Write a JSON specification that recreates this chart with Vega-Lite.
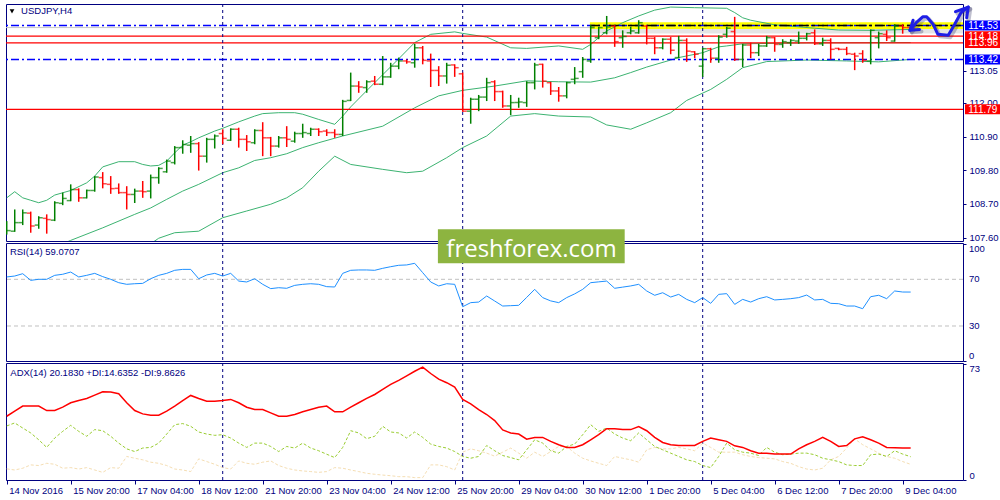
{
  "$schema": "https://vega.github.io/schema/vega-lite/v6.json",
  "background": "white",
  "padding": {"left": 3, "top": 3, "right": 0, "bottom": 0},
  "bounds": "flush",
  "spacing": 2,
  "config": {
    "font": "Liberation Sans",
    "view": {"stroke": "#000080", "strokeWidth": 1},
    "scale": {"continuousPadding": 0},
    "axis": {"labelColor": "#000080", "tickColor": "#000080", "domain": false, "grid": false, "labelFontSize": 9.5, "labelFont": "Liberation Sans", "tickSize": 3, "labelOverlap": false}
  },
  "resolve": {"scale": {"x": "independent", "y": "independent"}},
  "datasets": {
    "sep": [{"i": 27}, {"i": 57}, {"i": 87}],
    "bars": [
      {"i":0,"o":107.81,"h":108.14,"l":107.70,"c":107.83},{"i":1,"o":107.81,"h":108.52,"l":107.79,"c":108.09},
      {"i":2,"o":108.09,"h":108.52,"l":108.01,"c":108.41},{"i":3,"o":108.40,"h":108.45,"l":107.76,"c":107.98},
      {"i":4,"o":108.01,"h":108.30,"l":107.89,"c":108.25},{"i":5,"o":108.23,"h":108.36,"l":107.73,"c":108.19},
      {"i":6,"o":108.17,"h":108.79,"l":108.14,"c":108.74},{"i":7,"o":108.72,"h":109.07,"l":108.66,"c":108.88},
      {"i":8,"o":108.81,"h":109.34,"l":108.79,"c":109.17},{"i":9,"o":109.17,"h":109.21,"l":108.77,"c":108.90},
      {"i":10,"o":108.90,"h":109.17,"l":108.88,"c":109.14},{"i":11,"o":109.14,"h":109.61,"l":109.10,"c":109.58},
      {"i":12,"o":109.56,"h":109.74,"l":109.21,"c":109.36},{"i":13,"o":109.34,"h":109.61,"l":109.03,"c":109.20},
      {"i":14,"o":109.21,"h":109.37,"l":109.03,"c":109.07},{"i":15,"o":109.07,"h":109.28,"l":108.52,"c":109.01},
      {"i":16,"o":109.01,"h":109.20,"l":108.73,"c":109.12},{"i":17,"o":109.12,"h":109.45,"l":108.90,"c":109.10},
      {"i":18,"o":109.12,"h":109.66,"l":108.88,"c":109.56},{"i":19,"o":109.56,"h":109.90,"l":109.36,"c":109.86},
      {"i":20,"o":109.75,"h":110.15,"l":109.72,"c":110.10},{"i":21,"o":110.05,"h":110.59,"l":109.99,"c":110.54},
      {"i":22,"o":110.54,"h":110.78,"l":110.34,"c":110.64},{"i":23,"o":110.62,"h":110.92,"l":110.37,"c":110.67},
      {"i":24,"o":110.67,"h":110.72,"l":109.79,"c":110.26},{"i":25,"o":110.26,"h":110.86,"l":110.05,"c":110.81},
      {"i":26,"o":110.81,"h":110.97,"l":110.51,"c":110.92},{"i":27,"o":111.00,"h":111.14,"l":110.65,"c":110.84},
      {"i":28,"o":110.78,"h":111.17,"l":110.76,"c":111.14},{"i":29,"o":111.14,"h":111.19,"l":110.54,"c":110.81},
      {"i":30,"o":110.81,"h":110.95,"l":110.43,"c":110.73},{"i":31,"o":110.70,"h":111.14,"l":110.65,"c":111.10},
      {"i":32,"o":111.10,"h":111.37,"l":110.26,"c":110.86},{"i":33,"o":110.86,"h":110.89,"l":110.26,"c":110.59},
      {"i":34,"o":110.59,"h":110.92,"l":110.54,"c":110.86},{"i":35,"o":110.86,"h":111.24,"l":110.56,"c":110.81},
      {"i":36,"o":110.75,"h":111.06,"l":110.70,"c":111.00},{"i":37,"o":111.00,"h":111.32,"l":110.86,"c":111.03},
      {"i":38,"o":111.00,"h":111.19,"l":110.92,"c":111.14},{"i":39,"o":111.14,"h":111.17,"l":110.92,"c":111.06},
      {"i":40,"o":111.08,"h":111.14,"l":110.92,"c":111.03},{"i":41,"o":111.03,"h":111.14,"l":110.86,"c":110.97},
      {"i":42,"o":110.97,"h":112.10,"l":110.92,"c":112.05},{"i":43,"o":112.08,"h":112.99,"l":112.06,"c":112.55},
      {"i":44,"o":112.55,"h":112.71,"l":112.33,"c":112.52},{"i":45,"o":112.50,"h":112.74,"l":112.33,"c":112.69},
      {"i":46,"o":112.71,"h":112.88,"l":112.58,"c":112.61},{"i":47,"o":112.61,"h":113.53,"l":112.58,"c":112.85},
      {"i":48,"o":112.85,"h":113.31,"l":112.82,"c":113.20},{"i":49,"o":113.20,"h":113.48,"l":113.10,"c":113.37},
      {"i":50,"o":113.37,"h":113.42,"l":113.28,"c":113.34},{"i":51,"o":113.31,"h":113.93,"l":113.15,"c":113.80},
      {"i":52,"o":113.80,"h":113.86,"l":113.26,"c":113.39},{"i":53,"o":113.37,"h":113.61,"l":112.52,"c":113.06},
      {"i":54,"o":113.06,"h":113.20,"l":112.55,"c":112.88},{"i":55,"o":112.88,"h":113.31,"l":112.63,"c":113.23},
      {"i":56,"o":113.24,"h":113.26,"l":112.85,"c":113.15},{"i":57,"o":112.95,"h":112.99,"l":111.71,"c":111.73},
      {"i":58,"o":111.73,"h":112.17,"l":111.32,"c":112.12},{"i":59,"o":112.12,"h":112.26,"l":111.73,"c":112.19},
      {"i":60,"o":112.19,"h":112.82,"l":112.06,"c":112.66},{"i":61,"o":112.69,"h":112.74,"l":112.06,"c":112.37},
      {"i":62,"o":112.37,"h":112.40,"l":111.84,"c":111.90},{"i":63,"o":111.90,"h":112.26,"l":111.60,"c":112.01},
      {"i":64,"o":112.01,"h":112.17,"l":111.84,"c":112.03},{"i":65,"o":112.01,"h":112.71,"l":111.87,"c":112.66},
      {"i":66,"o":112.66,"h":113.31,"l":112.44,"c":113.24},{"i":67,"o":113.26,"h":113.28,"l":112.50,"c":112.71},
      {"i":68,"o":112.66,"h":112.69,"l":112.26,"c":112.39},{"i":69,"o":112.39,"h":112.52,"l":112.04,"c":112.23},
      {"i":70,"o":112.23,"h":112.69,"l":112.15,"c":112.66},{"i":71,"o":112.77,"h":113.17,"l":112.61,"c":112.80},
      {"i":72,"o":113.02,"h":113.50,"l":112.82,"c":113.42},{"i":73,"o":113.37,"h":114.54,"l":113.31,"c":114.46},
      {"i":74,"o":114.13,"h":114.48,"l":114.08,"c":114.46},{"i":75,"o":114.29,"h":114.84,"l":114.24,"c":114.48},
      {"i":76,"o":114.51,"h":114.54,"l":113.83,"c":114.00},{"i":77,"o":114.13,"h":114.37,"l":113.80,"c":114.17},
      {"i":78,"o":114.29,"h":114.48,"l":114.24,"c":114.35},{"i":79,"o":114.29,"h":114.70,"l":114.26,"c":114.62},
      {"i":80,"o":114.51,"h":114.54,"l":113.91,"c":114.11},{"i":81,"o":114.11,"h":114.15,"l":113.59,"c":113.80},
      {"i":82,"o":113.80,"h":114.11,"l":113.75,"c":114.08},{"i":83,"o":114.08,"h":114.15,"l":113.59,"c":113.72},
      {"i":84,"o":113.48,"h":114.19,"l":113.46,"c":114.04},{"i":85,"o":114.04,"h":114.11,"l":113.34,"c":113.69},
      {"i":86,"o":113.67,"h":113.69,"l":113.46,"c":113.59},{"i":87,"o":113.20,"h":113.80,"l":112.85,"c":113.77},
      {"i":88,"o":113.77,"h":113.80,"l":113.31,"c":113.46},{"i":89,"o":113.46,"h":114.21,"l":113.31,"c":114.15},
      {"i":90,"o":114.24,"h":114.48,"l":114.13,"c":114.44},{"i":91,"o":114.33,"h":114.81,"l":113.37,"c":113.42},
      {"i":92,"o":113.42,"h":113.93,"l":113.17,"c":113.89},{"i":93,"o":113.89,"h":113.97,"l":113.46,"c":113.64},
      {"i":94,"o":113.64,"h":113.93,"l":113.53,"c":113.86},{"i":95,"o":113.86,"h":114.19,"l":113.83,"c":114.13},
      {"i":96,"o":114.13,"h":114.15,"l":113.67,"c":113.91},{"i":97,"o":113.91,"h":114.08,"l":113.80,"c":114.00},
      {"i":98,"o":113.97,"h":114.08,"l":113.86,"c":114.04},{"i":99,"o":114.02,"h":114.33,"l":113.93,"c":114.11},
      {"i":100,"o":114.11,"h":114.29,"l":114.04,"c":114.26},{"i":101,"o":114.29,"h":114.40,"l":113.89,"c":113.93},
      {"i":102,"o":113.93,"h":114.13,"l":113.86,"c":114.04},{"i":103,"o":114.04,"h":114.11,"l":113.42,"c":113.75},
      {"i":104,"o":113.78,"h":113.80,"l":113.72,"c":113.75},{"i":105,"o":113.75,"h":113.83,"l":113.56,"c":113.61},
      {"i":106,"o":113.59,"h":113.64,"l":113.07,"c":113.53},{"i":107,"o":113.61,"h":113.72,"l":113.31,"c":113.39},
      {"i":108,"o":113.37,"h":114.40,"l":113.26,"c":114.37},{"i":109,"o":114.13,"h":114.33,"l":113.78,"c":114.26},
      {"i":110,"o":114.24,"h":114.37,"l":114.02,"c":114.13},{"i":111,"o":114.02,"h":114.57,"l":114.00,"c":114.51},
      {"i":112,"o":114.51,"h":114.57,"l":114.26,"c":114.46},{"i":113,"o":114.46,"h":114.51,"l":114.40,"c":114.44}
    ],
    "bands": [
      {"i":0,"b":"u","v":108.90},{"i":1,"b":"u","v":109.10},{"i":2,"b":"u","v":108.90},{"i":3,"b":"u","v":108.82},
      {"i":4,"b":"u","v":108.74},{"i":5,"b":"u","v":108.82},{"i":6,"b":"u","v":108.99},{"i":8,"b":"u","v":109.14},
      {"i":10,"b":"u","v":109.39},{"i":11,"b":"u","v":109.61},{"i":12,"b":"u","v":109.91},{"i":14,"b":"u","v":110.08},
      {"i":16,"b":"u","v":110.08},{"i":17,"b":"u","v":109.99},{"i":18,"b":"u","v":109.94},{"i":19,"b":"u","v":109.96},
      {"i":20,"b":"u","v":110.10},{"i":21,"b":"u","v":110.37},{"i":22,"b":"u","v":110.62},{"i":23,"b":"u","v":110.73},
      {"i":24,"b":"u","v":110.86},{"i":26,"b":"u","v":111.08},{"i":27,"b":"u","v":111.17},{"i":29,"b":"u","v":111.38},
      {"i":31,"b":"u","v":111.57},{"i":32,"b":"u","v":111.65},{"i":34,"b":"u","v":111.68},{"i":36,"b":"u","v":111.68},
      {"i":37,"b":"u","v":111.63},{"i":39,"b":"u","v":111.46},{"i":41,"b":"u","v":111.30},{"i":42,"b":"u","v":111.57},
      {"i":43,"b":"u","v":111.87},{"i":45,"b":"u","v":112.40},{"i":47,"b":"u","v":112.92},{"i":49,"b":"u","v":113.44},
      {"i":51,"b":"u","v":113.97},{"i":53,"b":"u","v":114.24},{"i":56,"b":"u","v":114.32},{"i":57,"b":"u","v":114.27},
      {"i":60,"b":"u","v":114.15},{"i":63,"b":"u","v":113.80},{"i":65,"b":"u","v":113.78},{"i":69,"b":"u","v":113.86},
      {"i":72,"b":"u","v":113.75},{"i":73,"b":"u","v":113.91},{"i":75,"b":"u","v":114.35},{"i":77,"b":"u","v":114.62},
      {"i":79,"b":"u","v":114.84},{"i":81,"b":"u","v":115.03},{"i":83,"b":"u","v":115.13},{"i":86,"b":"u","v":115.11},
      {"i":90,"b":"u","v":115.09},{"i":91,"b":"u","v":114.95},{"i":92,"b":"u","v":114.78},{"i":93,"b":"u","v":114.70},
      {"i":96,"b":"u","v":114.55},{"i":101,"b":"u","v":114.44},{"i":104,"b":"u","v":114.38},{"i":108,"b":"u","v":114.37},
      {"i":113,"b":"u","v":114.40},
      {"i":7,"b":"m","v":107.40},{"i":8,"b":"m","v":107.51},{"i":12,"b":"m","v":107.92},{"i":16,"b":"m","v":108.36},
      {"i":18,"b":"m","v":108.57},{"i":20,"b":"m","v":108.85},{"i":22,"b":"m","v":109.12},{"i":24,"b":"m","v":109.34},
      {"i":27,"b":"m","v":109.72},{"i":29,"b":"m","v":109.88},{"i":31,"b":"m","v":110.12},{"i":33,"b":"m","v":110.21},
      {"i":35,"b":"m","v":110.34},{"i":37,"b":"m","v":110.54},{"i":39,"b":"m","v":110.70},{"i":42,"b":"m","v":110.92},
      {"i":47,"b":"m","v":111.24},{"i":51,"b":"m","v":111.84},{"i":54,"b":"m","v":112.23},{"i":57,"b":"m","v":112.41},
      {"i":61,"b":"m","v":112.55},{"i":65,"b":"m","v":112.72},{"i":69,"b":"m","v":112.69},{"i":73,"b":"m","v":112.68},
      {"i":76,"b":"m","v":112.82},{"i":78,"b":"m","v":112.99},{"i":80,"b":"m","v":113.17},{"i":83,"b":"m","v":113.40},
      {"i":84,"b":"m","v":113.48},{"i":87,"b":"m","v":113.64},{"i":89,"b":"m","v":113.83},{"i":90,"b":"m","v":113.86},
      {"i":92,"b":"m","v":113.93},{"i":100,"b":"m","v":113.96},{"i":113,"b":"m","v":113.97},
      {"i":18,"b":"l","v":107.40},{"i":19,"b":"l","v":107.58},{"i":21,"b":"l","v":107.76},{"i":24,"b":"l","v":107.81},
      {"i":27,"b":"l","v":108.25},{"i":30,"b":"l","v":108.47},{"i":33,"b":"l","v":108.69},{"i":35,"b":"l","v":108.90},
      {"i":37,"b":"l","v":109.23},{"i":39,"b":"l","v":109.77},{"i":41,"b":"l","v":110.26},{"i":43,"b":"l","v":109.99},
      {"i":47,"b":"l","v":109.83},{"i":50,"b":"l","v":109.72},{"i":52,"b":"l","v":109.77},{"i":55,"b":"l","v":110.21},
      {"i":57,"b":"l","v":110.54},{"i":60,"b":"l","v":110.92},{"i":63,"b":"l","v":111.57},{"i":66,"b":"l","v":111.65},
      {"i":69,"b":"l","v":111.57},{"i":73,"b":"l","v":111.54},{"i":75,"b":"l","v":111.28},{"i":78,"b":"l","v":111.14},
      {"i":80,"b":"l","v":111.35},{"i":83,"b":"l","v":111.68},{"i":85,"b":"l","v":112.08},{"i":88,"b":"l","v":112.44},
      {"i":90,"b":"l","v":112.77},{"i":92,"b":"l","v":113.15},{"i":95,"b":"l","v":113.35},{"i":100,"b":"l","v":113.40},
      {"i":105,"b":"l","v":113.37},{"i":109,"b":"l","v":113.34},{"i":113,"b":"l","v":113.42}
    ],
    "tags": [
      {"v":113.96,"k":"r"},{"v":111.79,"k":"r"},{"v":113.42,"k":"b"},{"v":114.18,"k":"r"},{"v":114.53,"k":"b"}
    ],
    "arrow": [
      {"s":"m","k":0,"i":112.9,"v":114.37},{"s":"m","k":1,"i":113.7,"v":114.62},{"s":"m","k":2,"i":114.5,"v":114.81},
      {"s":"m","k":3,"i":115.0,"v":114.81},{"s":"m","k":4,"i":115.8,"v":114.57},{"s":"m","k":5,"i":116.4,"v":114.24},
      {"s":"m","k":6,"i":117.7,"v":114.21},{"s":"m","k":7,"i":118.5,"v":114.57},{"s":"m","k":8,"i":119.3,"v":114.95},
      {"s":"m","k":9,"i":120.2,"v":115.13},
      {"s":"h1","k":0,"i":113.3,"v":114.70},{"s":"h1","k":1,"i":112.9,"v":114.37},{"s":"h1","k":2,"i":114.1,"v":114.40},
      {"s":"h2","k":0,"i":118.6,"v":114.98},{"s":"h2","k":1,"i":120.2,"v":115.13},{"s":"h2","k":2,"i":120.0,"v":114.78}
    ],
    "rsi": [
      {"i":0,"v":72.0},{"i":1,"v":72.8},{"i":2,"v":74.8},{"i":3,"v":69.1},{"i":4,"v":70.0},{"i":5,"v":70.0},
      {"i":6,"v":73.4},{"i":7,"v":74.3},{"i":8,"v":76.2},{"i":9,"v":72.0},{"i":10,"v":73.4},{"i":11,"v":75.1},
      {"i":12,"v":72.3},{"i":13,"v":70.0},{"i":14,"v":67.1},{"i":15,"v":65.7},{"i":16,"v":66.2},{"i":17,"v":66.5},
      {"i":18,"v":70.5},{"i":19,"v":73.4},{"i":20,"v":75.1},{"i":21,"v":77.7},{"i":22,"v":78.5},{"i":23,"v":78.5},
      {"i":24,"v":70.5},{"i":25,"v":73.7},{"i":26,"v":75.1},{"i":27,"v":72.8},{"i":28,"v":75.1},{"i":29,"v":68.5},
      {"i":30,"v":67.7},{"i":31,"v":70.5},{"i":32,"v":65.7},{"i":33,"v":62.0},{"i":34,"v":62.8},{"i":35,"v":62.3},
      {"i":36,"v":64.8},{"i":37,"v":65.7},{"i":38,"v":66.2},{"i":39,"v":65.7},{"i":40,"v":63.7},{"i":41,"v":63.4},
      {"i":42,"v":75.1},{"i":43,"v":77.7},{"i":44,"v":78.0},{"i":45,"v":78.0},{"i":46,"v":77.7},{"i":47,"v":79.4},
      {"i":48,"v":80.8},{"i":49,"v":82.0},{"i":50,"v":82.3},{"i":51,"v":83.7},{"i":52,"v":75.7},{"i":53,"v":67.7},
      {"i":54,"v":64.3},{"i":55,"v":66.2},{"i":56,"v":65.7},{"i":57,"v":46.5},{"i":58,"v":50.0},{"i":59,"v":50.5},
      {"i":60,"v":55.7},{"i":61,"v":51.4},{"i":62,"v":47.1},{"i":63,"v":47.4},{"i":64,"v":47.7},{"i":65,"v":54.5},
      {"i":66,"v":61.4},{"i":67,"v":54.3},{"i":68,"v":51.5},{"i":69,"v":50.0},{"i":70,"v":54.3},{"i":71,"v":57.5},
      {"i":72,"v":61.4},{"i":73,"v":67.1},{"i":74,"v":67.8},{"i":75,"v":68.5},{"i":76,"v":62.3},{"i":77,"v":63.3},
      {"i":78,"v":64.3},{"i":79,"v":65.7},{"i":80,"v":60.0},{"i":81,"v":56.3},{"i":82,"v":58.5},{"i":83,"v":54.8},
      {"i":84,"v":57.1},{"i":85,"v":52.8},{"i":86,"v":50.0},{"i":87,"v":54.3},{"i":88,"v":49.4},{"i":89,"v":57.1},
      {"i":90,"v":57.7},{"i":91,"v":48.5},{"i":92,"v":52.8},{"i":93,"v":50.5},{"i":94,"v":53.4},{"i":95,"v":55.1},
      {"i":96,"v":52.3},{"i":97,"v":52.8},{"i":98,"v":53.4},{"i":99,"v":54.3},{"i":100,"v":56.5},{"i":101,"v":52.3},
      {"i":102,"v":52.8},{"i":103,"v":49.4},{"i":104,"v":49.1},{"i":105,"v":47.1},{"i":106,"v":47.1},{"i":107,"v":44.8},
      {"i":108,"v":55.1},{"i":109,"v":56.3},{"i":110,"v":53.4},{"i":111,"v":60.0},{"i":112,"v":59.1},{"i":113,"v":59.07}
    ],
    "adx": [
      {"i":0,"v":40.1},{"i":1,"v":43.3},{"i":2,"v":46.5},{"i":3,"v":46.5},{"i":4,"v":46.5},{"i":5,"v":43.7},
      {"i":6,"v":43.7},{"i":7,"v":45.8},{"i":8,"v":48.6},{"i":9,"v":50.0},{"i":10,"v":51.3},{"i":11,"v":53.4},
      {"i":12,"v":55.5},{"i":13,"v":55.3},{"i":14,"v":54.3},{"i":15,"v":48.6},{"i":16,"v":43.7},{"i":17,"v":41.6},
      {"i":18,"v":40.8},{"i":19,"v":40.8},{"i":20,"v":43.3},{"i":21,"v":46.5},{"i":22,"v":50.0},{"i":23,"v":53.2},
      {"i":24,"v":51.3},{"i":25,"v":49.6},{"i":26,"v":49.6},{"i":27,"v":50.0},{"i":28,"v":50.7},{"i":29,"v":48.6},
      {"i":30,"v":45.8},{"i":31,"v":44.3},{"i":32,"v":44.3},{"i":33,"v":42.2},{"i":34,"v":40.1},{"i":35,"v":40.1},
      {"i":36,"v":41.2},{"i":37,"v":42.9},{"i":38,"v":44.3},{"i":39,"v":45.8},{"i":40,"v":46.5},{"i":41,"v":42.9},
      {"i":42,"v":42.9},{"i":43,"v":45.8},{"i":44,"v":48.6},{"i":45,"v":51.3},{"i":46,"v":53.8},{"i":47,"v":57.0},
      {"i":48,"v":60.2},{"i":49,"v":62.7},{"i":50,"v":65.5},{"i":51,"v":68.4},{"i":52,"v":71.0},{"i":53,"v":67.0},
      {"i":54,"v":63.4},{"i":55,"v":61.2},{"i":56,"v":58.5},{"i":57,"v":50.7},{"i":58,"v":47.9},{"i":59,"v":44.3},
      {"i":60,"v":41.2},{"i":61,"v":37.4},{"i":62,"v":31.5},{"i":63,"v":29.6},{"i":64,"v":28.9},{"i":65,"v":25.7},
      {"i":66,"v":26.8},{"i":67,"v":26.8},{"i":68,"v":24.3},{"i":69,"v":22.2},{"i":70,"v":20.5},{"i":71,"v":20.5},
      {"i":72,"v":22.2},{"i":73,"v":25.3},{"i":74,"v":28.5},{"i":75,"v":32.3},{"i":76,"v":32.3},{"i":77,"v":31.7},
      {"i":78,"v":31.7},{"i":79,"v":33.6},{"i":80,"v":31.0},{"i":81,"v":26.8},{"i":82,"v":23.6},{"i":83,"v":22.2},
      {"i":84,"v":21.7},{"i":85,"v":21.7},{"i":86,"v":21.7},{"i":87,"v":24.3},{"i":88,"v":26.4},{"i":89,"v":25.3},
      {"i":90,"v":24.3},{"i":91,"v":21.5},{"i":92,"v":20.5},{"i":93,"v":18.4},{"i":94,"v":16.9},{"i":95,"v":16.9},
      {"i":96,"v":16.3},{"i":97,"v":16.3},{"i":98,"v":16.3},{"i":99,"v":19.6},{"i":100,"v":22.2},{"i":101,"v":24.3},
      {"i":102,"v":26.8},{"i":103,"v":24.3},{"i":104,"v":21.1},{"i":105,"v":21.7},{"i":106,"v":25.9},{"i":107,"v":27.2},
      {"i":108,"v":25.3},{"i":109,"v":23.2},{"i":110,"v":20.5},{"i":111,"v":20.3},{"i":112,"v":20.2},{"i":113,"v":20.18}
    ],
    "pdi": [
      {"i":0,"v":34.0},{"i":1,"v":35.9},{"i":2,"v":32.7},{"i":3,"v":29.6},{"i":4,"v":25.3},{"i":5,"v":20.5},
      {"i":6,"v":26.4},{"i":7,"v":30.6},{"i":8,"v":34.4},{"i":9,"v":30.6},{"i":10,"v":27.5},{"i":11,"v":31.7},
      {"i":12,"v":31.0},{"i":13,"v":27.5},{"i":14,"v":23.2},{"i":15,"v":19.6},{"i":16,"v":17.9},{"i":17,"v":20.1},
      {"i":18,"v":20.5},{"i":19,"v":23.2},{"i":20,"v":28.9},{"i":21,"v":34.8},{"i":22,"v":35.5},{"i":23,"v":33.8},
      {"i":24,"v":30.2},{"i":25,"v":28.9},{"i":26,"v":28.1},{"i":27,"v":28.5},{"i":28,"v":26.4},{"i":29,"v":23.2},
      {"i":30,"v":20.5},{"i":31,"v":23.2},{"i":32,"v":23.2},{"i":33,"v":21.1},{"i":34,"v":17.9},{"i":35,"v":21.1},
      {"i":36,"v":20.1},{"i":37,"v":23.2},{"i":38,"v":20.1},{"i":39,"v":18.4},{"i":40,"v":16.2},{"i":41,"v":14.1},
      {"i":42,"v":20.5},{"i":43,"v":31.0},{"i":44,"v":29.6},{"i":45,"v":26.0},{"i":46,"v":27.5},{"i":47,"v":33.8},
      {"i":48,"v":30.2},{"i":49,"v":29.6},{"i":50,"v":26.4},{"i":51,"v":30.2},{"i":52,"v":26.8},{"i":53,"v":22.6},
      {"i":54,"v":21.1},{"i":55,"v":20.1},{"i":56,"v":17.9},{"i":57,"v":14.8},{"i":58,"v":13.7},{"i":59,"v":14.8},
      {"i":60,"v":21.7},{"i":61,"v":18.4},{"i":62,"v":15.4},{"i":63,"v":14.1},{"i":64,"v":12.7},{"i":65,"v":19.0},
      {"i":66,"v":25.3},{"i":67,"v":23.2},{"i":68,"v":18.4},{"i":69,"v":16.9},{"i":70,"v":21.1},{"i":71,"v":22.6},
      {"i":72,"v":28.5},{"i":73,"v":34.8},{"i":74,"v":30.6},{"i":75,"v":32.7},{"i":76,"v":28.9},{"i":77,"v":26.4},
      {"i":78,"v":24.7},{"i":79,"v":29.6},{"i":80,"v":25.3},{"i":81,"v":21.1},{"i":82,"v":19.0},{"i":83,"v":16.9},
      {"i":84,"v":14.8},{"i":85,"v":12.7},{"i":86,"v":11.6},{"i":87,"v":9.1},{"i":88,"v":7.8},{"i":89,"v":14.8},
      {"i":90,"v":23.2},{"i":91,"v":19.0},{"i":92,"v":17.5},{"i":93,"v":16.9},{"i":94,"v":15.4},{"i":95,"v":20.5},
      {"i":96,"v":17.5},{"i":97,"v":15.9},{"i":98,"v":16.3},{"i":99,"v":16.9},{"i":100,"v":16.9},{"i":101,"v":15.9},
      {"i":102,"v":13.7},{"i":103,"v":12.7},{"i":104,"v":11.6},{"i":105,"v":9.5},{"i":106,"v":9.1},{"i":107,"v":9.1},
      {"i":108,"v":15.9},{"i":109,"v":16.3},{"i":110,"v":14.8},{"i":111,"v":18.4},{"i":112,"v":16.3},{"i":113,"v":14.64}
    ],
    "mdi": [
      {"i":0,"v":7.0},{"i":1,"v":6.3},{"i":2,"v":7.4},{"i":3,"v":9.5},{"i":4,"v":9.1},{"i":5,"v":10.5},
      {"i":6,"v":9.9},{"i":7,"v":7.4},{"i":8,"v":7.8},{"i":9,"v":6.9},{"i":10,"v":7.8},{"i":11,"v":6.3},
      {"i":12,"v":4.8},{"i":13,"v":7.8},{"i":14,"v":7.4},{"i":15,"v":14.8},{"i":16,"v":13.7},{"i":17,"v":12.7},
      {"i":18,"v":11.2},{"i":19,"v":10.5},{"i":20,"v":9.1},{"i":21,"v":6.9},{"i":22,"v":6.3},{"i":23,"v":5.3},
      {"i":24,"v":13.3},{"i":25,"v":11.6},{"i":26,"v":9.9},{"i":27,"v":7.8},{"i":28,"v":6.9},{"i":29,"v":12.0},
      {"i":30,"v":10.5},{"i":31,"v":9.9},{"i":32,"v":11.2},{"i":33,"v":12.0},{"i":34,"v":9.1},{"i":35,"v":7.4},
      {"i":36,"v":6.3},{"i":37,"v":5.7},{"i":38,"v":5.3},{"i":39,"v":4.8},{"i":40,"v":5.3},{"i":41,"v":7.8},
      {"i":42,"v":7.4},{"i":43,"v":6.3},{"i":44,"v":5.3},{"i":45,"v":4.2},{"i":46,"v":3.6},{"i":47,"v":3.1},
      {"i":48,"v":2.7},{"i":49,"v":2.1},{"i":50,"v":2.1},{"i":51,"v":1.5},{"i":52,"v":1.5},{"i":53,"v":9.5},
      {"i":54,"v":9.5},{"i":55,"v":8.4},{"i":56,"v":6.3},{"i":57,"v":17.5},{"i":58,"v":19.6},{"i":59,"v":18.4},
      {"i":60,"v":16.9},{"i":61,"v":15.0},{"i":62,"v":17.5},{"i":63,"v":20.1},{"i":64,"v":16.9},{"i":65,"v":13.7},
      {"i":66,"v":17.5},{"i":67,"v":14.8},{"i":68,"v":17.9},{"i":69,"v":21.1},{"i":70,"v":21.1},{"i":71,"v":16.9},
      {"i":72,"v":13.7},{"i":73,"v":12.0},{"i":74,"v":10.5},{"i":75,"v":9.1},{"i":76,"v":14.8},{"i":77,"v":13.7},
      {"i":78,"v":12.7},{"i":79,"v":11.2},{"i":80,"v":19.0},{"i":81,"v":20.5},{"i":82,"v":19.6},{"i":83,"v":19.6},
      {"i":84,"v":20.5},{"i":85,"v":19.6},{"i":86,"v":18.4},{"i":87,"v":23.2},{"i":88,"v":20.5},{"i":89,"v":17.5},
      {"i":90,"v":17.5},{"i":91,"v":17.5},{"i":92,"v":15.9},{"i":93,"v":14.8},{"i":94,"v":14.1},{"i":95,"v":13.7},
      {"i":96,"v":13.3},{"i":97,"v":11.6},{"i":98,"v":10.5},{"i":99,"v":8.4},{"i":100,"v":6.9},{"i":101,"v":6.3},
      {"i":102,"v":7.4},{"i":103,"v":12.7},{"i":104,"v":14.8},{"i":105,"v":20.1},{"i":106,"v":25.9},{"i":107,"v":22.2},
      {"i":108,"v":19.6},{"i":109,"v":16.9},{"i":110,"v":14.8},{"i":111,"v":13.7},{"i":112,"v":11.6},{"i":113,"v":9.86}
    ]
  },
  "vconcat": [
    {
      "width": 957,
      "height": 237,
      "layer": [
        {
          "data": {"name": "bars"},
          "mark": {"type": "rule", "strokeWidth": 1.5},
          "encoding": {
            "x": {"field": "i", "type": "quantitative", "scale": {"domain": [-0.09, 119.54], "nice": false, "zero": false, "padding": 0}, "axis": null},
            "y": {"field": "l", "type": "quantitative", "scale": {"domain": [107.49, 115.23], "nice": false, "zero": false, "padding": 0},
                  "axis": {"orient": "right", "values": [107.6, 108.7, 109.8, 110.9, 112.0, 113.05], "format": ".2f", "title": null, "labelPadding": 3, "labelOverlap": false}},
            "y2": {"field": "h"},
            "color": {"value": "transparent"}
          }
        },
        {
          "data": {"values": [{"v": 114.46}]},
          "mark": {"type": "rule", "color": "#C8C8C8", "strokeWidth": 1},
          "encoding": {"y": {"field": "v", "type": "quantitative", "scale": {"domain": [107.49, 115.23], "nice": false, "zero": false, "padding": 0}}}
        },
        {
          "data": {"values": [{}]},
          "mark": {"type": "rect", "color": "#C4C4C4", "opacity": 0.45},
          "encoding": {
            "x": {"datum": 72.9, "type": "quantitative", "scale": {"domain": [-0.09, 119.54], "nice": false, "zero": false, "padding": 0}, "axis": null},
            "x2": {"datum": 119.54},
            "y": {"datum": 114.27, "type": "quantitative", "scale": {"domain": [107.49, 115.23], "nice": false, "zero": false, "padding": 0}},
            "y2": {"datum": 114.41}
          }
        },
        {
          "data": {"values": [{}]},
          "mark": {"type": "rect", "color": "#FFFF00"},
          "encoding": {
            "x": {"datum": 72.9, "type": "quantitative", "scale": {"domain": [-0.09, 119.54], "nice": false, "zero": false, "padding": 0}, "axis": null},
            "x2": {"datum": 119.54},
            "y": {"datum": 114.41, "type": "quantitative", "scale": {"domain": [107.49, 115.23], "nice": false, "zero": false, "padding": 0}},
            "y2": {"datum": 114.63}
          }
        },
        {
          "data": {"name": "bands"},
          "mark": {"type": "line", "color": "#3CB371", "strokeWidth": 1, "clip": true},
          "encoding": {
            "x": {"field": "i", "type": "quantitative", "scale": {"domain": [-0.09, 119.54], "nice": false, "zero": false, "padding": 0}, "axis": null},
            "y": {"field": "v", "type": "quantitative", "scale": {"domain": [107.49, 115.23], "nice": false, "zero": false, "padding": 0}},
            "detail": {"field": "b"}
          }
        },
        {
          "data": {"values": [{"v": 114.18}, {"v": 113.96}, {"v": 111.79}]},
          "mark": {"type": "rule", "color": "#FF0000", "strokeWidth": 1.2},
          "encoding": {"y": {"field": "v", "type": "quantitative", "scale": {"domain": [107.49, 115.23], "nice": false, "zero": false, "padding": 0}}}
        },
        {
          "data": {"values": [{"v": 114.53}, {"v": 113.42}]},
          "mark": {"type": "rule", "color": "#0000FF", "strokeWidth": 1.5, "strokeDash": [8, 3, 2, 3]},
          "encoding": {"y": {"field": "v", "type": "quantitative", "scale": {"domain": [107.49, 115.23], "nice": false, "zero": false, "padding": 0}}}
        },
        {
          "data": {"values": [{}]},
          "mark": {"type": "rule", "color": "#000000", "strokeWidth": 1.5, "strokeDash": [10, 3, 3, 3]},
          "encoding": {
            "x": {"datum": 72.9, "type": "quantitative", "scale": {"domain": [-0.09, 119.54], "nice": false, "zero": false, "padding": 0}, "axis": null},
            "x2": {"datum": 119.54},
            "y": {"datum": 114.53, "type": "quantitative", "scale": {"domain": [107.49, 115.23], "nice": false, "zero": false, "padding": 0}}
          }
        },
        {
          "data": {"name": "sep"},
          "mark": {"type": "rule", "color": "#000080", "strokeWidth": 1, "strokeDash": [3, 3]},
          "encoding": {"x": {"field": "i", "type": "quantitative", "scale": {"domain": [-0.09, 119.54], "nice": false, "zero": false, "padding": 0}, "axis": null}}
        },
        {
          "data": {"name": "bars"},
          "mark": {"type": "rule", "strokeWidth": 1.5},
          "encoding": {
            "x": {"field": "i", "type": "quantitative", "scale": {"domain": [-0.09, 119.54], "nice": false, "zero": false, "padding": 0}, "axis": null},
            "y": {"field": "l", "type": "quantitative", "scale": {"domain": [107.49, 115.23], "nice": false, "zero": false, "padding": 0}},
            "y2": {"field": "h"},
            "color": {"condition": {"test": "datum.c >= datum.o", "value": "#008000"}, "value": "#FF0000"}
          }
        },
        {
          "data": {"name": "bars"},
          "mark": {"type": "tick", "orient": "horizontal", "size": 4, "thickness": 1.5, "xOffset": -2, "clip": true},
          "encoding": {
            "x": {"field": "i", "type": "quantitative", "scale": {"domain": [-0.09, 119.54], "nice": false, "zero": false, "padding": 0}, "axis": null},
            "y": {"field": "o", "type": "quantitative", "scale": {"domain": [107.49, 115.23], "nice": false, "zero": false, "padding": 0}},
            "color": {"condition": {"test": "datum.c >= datum.o", "value": "#008000"}, "value": "#FF0000"}
          }
        },
        {
          "data": {"name": "bars"},
          "mark": {"type": "tick", "orient": "horizontal", "size": 4, "thickness": 1.5, "xOffset": 2, "clip": true},
          "encoding": {
            "x": {"field": "i", "type": "quantitative", "scale": {"domain": [-0.09, 119.54], "nice": false, "zero": false, "padding": 0}, "axis": null},
            "y": {"field": "c", "type": "quantitative", "scale": {"domain": [107.49, 115.23], "nice": false, "zero": false, "padding": 0}},
            "color": {"condition": {"test": "datum.c >= datum.o", "value": "#008000"}, "value": "#FF0000"}
          }
        },
        {
          "data": {"name": "tags"},
          "mark": {"type": "bar", "orient": "horizontal", "size": 10, "clip": false},
          "encoding": {
            "x": {"datum": 119.79, "type": "quantitative", "scale": {"domain": [-0.09, 119.54], "nice": false, "zero": false, "padding": 0}, "axis": null},
            "x2": {"datum": 124.6},
            "y": {"field": "v", "type": "quantitative", "scale": {"domain": [107.49, 115.23], "nice": false, "zero": false, "padding": 0}},
            "color": {"field": "k", "type": "nominal", "scale": {"domain": ["r", "b"], "range": ["#FF0000", "#0000FF"]}, "legend": null}
          }
        },
        {
          "data": {"name": "tags"},
          "mark": {"type": "text", "color": "white", "align": "left", "baseline": "middle", "fontSize": 10, "dy": 0.5, "clip": false},
          "encoding": {
            "x": {"datum": 120.2, "type": "quantitative", "scale": {"domain": [-0.09, 119.54], "nice": false, "zero": false, "padding": 0}, "axis": null},
            "y": {"field": "v", "type": "quantitative", "scale": {"domain": [107.49, 115.23], "nice": false, "zero": false, "padding": 0}},
            "text": {"field": "v", "format": ".2f"}
          }
        },
        {
          "data": {"name": "arrow"},
          "mark": {"type": "line", "color": "#303060", "opacity": 0.3, "strokeWidth": 4, "xOffset": 2, "yOffset": 2, "strokeCap": "round", "strokeJoin": "round", "clip": false},
          "encoding": {
            "x": {"field": "i", "type": "quantitative", "scale": {"domain": [-0.09, 119.54], "nice": false, "zero": false, "padding": 0}, "axis": null},
            "y": {"field": "v", "type": "quantitative", "scale": {"domain": [107.49, 115.23], "nice": false, "zero": false, "padding": 0}},
            "detail": {"field": "s"},
            "order": {"field": "k"}
          }
        },
        {
          "data": {"name": "arrow"},
          "mark": {"type": "line", "color": "#1E1EE6", "strokeWidth": 3, "strokeCap": "round", "strokeJoin": "round", "clip": false},
          "encoding": {
            "x": {"field": "i", "type": "quantitative", "scale": {"domain": [-0.09, 119.54], "nice": false, "zero": false, "padding": 0}, "axis": null},
            "y": {"field": "v", "type": "quantitative", "scale": {"domain": [107.49, 115.23], "nice": false, "zero": false, "padding": 0}},
            "detail": {"field": "s"},
            "order": {"field": "k"}
          }
        },
        {
          "data": {"values": [{}]},
          "mark": {"type": "point", "shape": "triangle-down", "filled": true, "color": "#000000", "size": 22, "opacity": 1},
          "encoding": {
            "x": {"datum": 0.66, "type": "quantitative", "scale": {"domain": [-0.09, 119.54], "nice": false, "zero": false, "padding": 0}, "axis": null},
            "y": {"datum": 114.99, "type": "quantitative", "scale": {"domain": [107.49, 115.23], "nice": false, "zero": false, "padding": 0}}
          }
        },
        {
          "data": {"values": [{"t": "USDJPY,H4"}]},
          "mark": {"type": "text", "color": "#000080", "align": "left", "baseline": "middle", "fontSize": 9.5},
          "encoding": {
            "x": {"datum": 1.8, "type": "quantitative", "scale": {"domain": [-0.09, 119.54], "nice": false, "zero": false, "padding": 0}, "axis": null},
            "y": {"datum": 115.0, "type": "quantitative", "scale": {"domain": [107.49, 115.23], "nice": false, "zero": false, "padding": 0}},
            "text": {"field": "t"}
          }
        }
      ]
    },
    {
      "width": 957,
      "height": 118,
      "layer": [
        {
          "data": {"values": [{"v": 0}, {"v": 30}, {"v": 70}, {"v": 100}]},
          "mark": {"type": "rule", "color": "#C0C0C0", "strokeWidth": 1, "strokeDash": [4, 3]},
          "encoding": {
            "y": {"field": "v", "type": "quantitative", "scale": {"domain": [0, 101.1], "nice": false, "zero": false, "padding": 0},
                  "axis": {"orient": "right", "values": [0, 30, 70, 100], "title": null, "labels": false, "ticks": true}},
            "opacity": {"condition": {"test": "datum.v == 30 || datum.v == 70", "value": 1}, "value": 0}
          }
        },
        {
          "data": {"name": "sep"},
          "mark": {"type": "rule", "color": "#000080", "strokeWidth": 1, "strokeDash": [3, 3]},
          "encoding": {"x": {"field": "i", "type": "quantitative", "scale": {"domain": [-0.09, 119.54], "nice": false, "zero": false, "padding": 0}, "axis": null}}
        },
        {
          "data": {"name": "rsi"},
          "mark": {"type": "line", "color": "#1E90FF", "strokeWidth": 1},
          "encoding": {
            "x": {"field": "i", "type": "quantitative", "scale": {"domain": [-0.09, 119.54], "nice": false, "zero": false, "padding": 0}, "axis": null},
            "y": {"field": "v", "type": "quantitative", "scale": {"domain": [0, 101.1], "nice": false, "zero": false, "padding": 0}}
          }
        },
        {
          "data": {"values": [{"v": 100}]},
          "mark": {"type": "text", "color": "#000080", "align": "left", "baseline": "top", "fontSize": 9.5, "clip": false},
          "encoding": {
            "x": {"datum": 120.29, "type": "quantitative", "scale": {"domain": [-0.09, 119.54], "nice": false, "zero": false, "padding": 0}, "axis": null},
            "y": {"field": "v", "type": "quantitative", "scale": {"domain": [0, 101.1], "nice": false, "zero": false, "padding": 0}},
            "text": {"field": "v"}
          }
        },
        {
          "data": {"values": [{"v": 70}, {"v": 30}]},
          "mark": {"type": "text", "color": "#000080", "align": "left", "baseline": "middle", "fontSize": 9.5, "clip": false},
          "encoding": {
            "x": {"datum": 120.29, "type": "quantitative", "scale": {"domain": [-0.09, 119.54], "nice": false, "zero": false, "padding": 0}, "axis": null},
            "y": {"field": "v", "type": "quantitative", "scale": {"domain": [0, 101.1], "nice": false, "zero": false, "padding": 0}},
            "text": {"field": "v"}
          }
        },
        {
          "data": {"values": [{"v": 0}]},
          "mark": {"type": "text", "color": "#000080", "align": "left", "baseline": "bottom", "fontSize": 9.5, "clip": false},
          "encoding": {
            "x": {"datum": 120.29, "type": "quantitative", "scale": {"domain": [-0.09, 119.54], "nice": false, "zero": false, "padding": 0}, "axis": null},
            "y": {"field": "v", "type": "quantitative", "scale": {"domain": [0, 101.1], "nice": false, "zero": false, "padding": 0}},
            "text": {"field": "v"}
          }
        },
        {
          "data": {"values": [{"t": "RSI(14) 59.0707"}]},
          "mark": {"type": "text", "color": "#000080", "align": "left", "baseline": "middle", "fontSize": 9.5},
          "encoding": {
            "x": {"datum": 0.4, "type": "quantitative", "scale": {"domain": [-0.09, 119.54], "nice": false, "zero": false, "padding": 0}, "axis": null},
            "y": {"datum": 93.4, "type": "quantitative", "scale": {"domain": [0, 101.1], "nice": false, "zero": false, "padding": 0}},
            "text": {"field": "t"}
          }
        },
        {
          "data": {"values": [{}]},
          "mark": {"type": "rect", "color": "#8DB440", "clip": false},
          "encoding": {
            "x": {"datum": 53.9, "type": "quantitative", "scale": {"domain": [-0.09, 119.54], "nice": false, "zero": false, "padding": 0}, "axis": null},
            "x2": {"datum": 77.25},
            "y": {"datum": 83.7, "type": "quantitative", "scale": {"domain": [0, 101.1], "nice": false, "zero": false, "padding": 0}},
            "y2": {"datum": 112.9}
          }
        },
        {
          "data": {"values": [{"t": "freshforex.com"}]},
          "mark": {"type": "text", "color": "white", "align": "center", "baseline": "alphabetic", "font": "Open Sans", "fontSize": 24, "clip": false},
          "encoding": {
            "x": {"datum": 65.6, "type": "quantitative", "scale": {"domain": [-0.09, 119.54], "nice": false, "zero": false, "padding": 0}, "axis": null},
            "y": {"datum": 89.1, "type": "quantitative", "scale": {"domain": [0, 101.1], "nice": false, "zero": false, "padding": 0}},
            "text": {"field": "t"}
          }
        }
      ]
    },
    {
      "width": 957,
      "height": 117,
      "layer": [
        {
          "data": {"name": "adx"},
          "mark": {"type": "line", "color": "transparent", "strokeWidth": 1},
          "encoding": {
            "x": {"field": "i", "type": "quantitative", "scale": {"domain": [-0.09, 119.54], "nice": false, "zero": false, "padding": 0},
                  "axis": {"values": [0, 8, 16, 24, 32, 40, 48, 56, 64, 72, 80, 88, 96, 104, 112],
                           "labelExpr": "['14 Nov 2016','15 Nov 20:00','17 Nov 04:00','18 Nov 12:00','21 Nov 20:00','23 Nov 04:00','24 Nov 12:00','25 Nov 20:00','29 Nov 04:00','30 Nov 12:00','1 Dec 20:00','5 Dec 04:00','6 Dec 12:00','7 Dec 20:00','9 Dec 04:00'][round(datum.value / 8)]",
                           "labelAlign": "left", "labelOffset": 2, "labelFlush": false, "labelOverlap": false, "labelBound": false,
                           "tickSize": 4, "labelPadding": 1, "title": null}},
            "y": {"field": "v", "type": "quantitative", "scale": {"domain": [0, 73.6], "nice": false, "zero": false, "padding": 0},
                  "axis": {"orient": "right", "values": [0, 73], "title": null, "labelFlush": false, "labelPadding": 3, "labelOverlap": false,
                           "labelBaseline": {"condition": {"test": "datum.value >= 73", "value": "top"}, "value": "bottom"}}}
          }
        },
        {
          "data": {"name": "sep"},
          "mark": {"type": "rule", "color": "#000080", "strokeWidth": 1, "strokeDash": [3, 3]},
          "encoding": {"x": {"field": "i", "type": "quantitative", "scale": {"domain": [-0.09, 119.54], "nice": false, "zero": false, "padding": 0}}}
        },
        {
          "data": {"name": "mdi"},
          "mark": {"type": "line", "color": "#F5DEB3", "strokeWidth": 1, "strokeDash": [3, 2]},
          "encoding": {
            "x": {"field": "i", "type": "quantitative", "scale": {"domain": [-0.09, 119.54], "nice": false, "zero": false, "padding": 0}},
            "y": {"field": "v", "type": "quantitative", "scale": {"domain": [0, 73.6], "nice": false, "zero": false, "padding": 0}}
          }
        },
        {
          "data": {"name": "pdi"},
          "mark": {"type": "line", "color": "#9ACD32", "strokeWidth": 1, "strokeDash": [3, 2]},
          "encoding": {
            "x": {"field": "i", "type": "quantitative", "scale": {"domain": [-0.09, 119.54], "nice": false, "zero": false, "padding": 0}},
            "y": {"field": "v", "type": "quantitative", "scale": {"domain": [0, 73.6], "nice": false, "zero": false, "padding": 0}}
          }
        },
        {
          "data": {"name": "adx"},
          "mark": {"type": "line", "color": "#FF0000", "strokeWidth": 1.5},
          "encoding": {
            "x": {"field": "i", "type": "quantitative", "scale": {"domain": [-0.09, 119.54], "nice": false, "zero": false, "padding": 0}},
            "y": {"field": "v", "type": "quantitative", "scale": {"domain": [0, 73.6], "nice": false, "zero": false, "padding": 0}}
          }
        },
        {
          "data": {"values": [{"t": "ADX(14) 20.1830 +DI:14.6352 -DI:9.8626"}]},
          "mark": {"type": "text", "color": "#000080", "align": "left", "baseline": "middle", "fontSize": 9.5},
          "encoding": {
            "x": {"datum": 0.45, "type": "quantitative", "scale": {"domain": [-0.09, 119.54], "nice": false, "zero": false, "padding": 0}},
            "y": {"datum": 67.3, "type": "quantitative", "scale": {"domain": [0, 73.6], "nice": false, "zero": false, "padding": 0}},
            "text": {"field": "t"}
          }
        }
      ]
    }
  ]
}
